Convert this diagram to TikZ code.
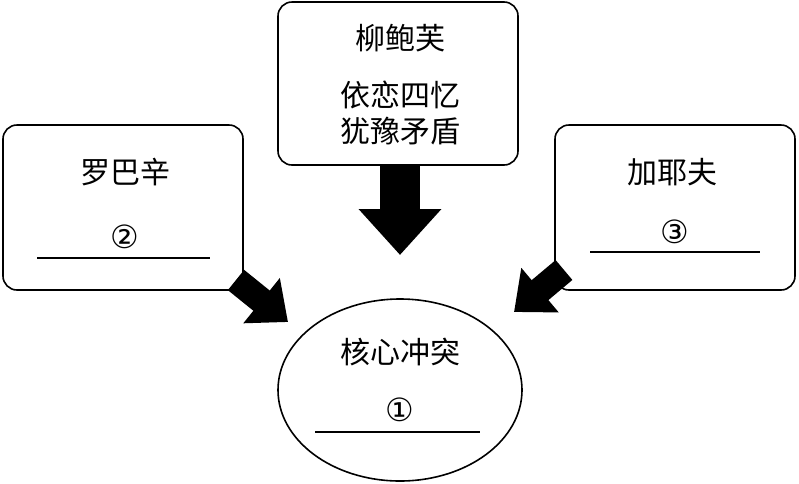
\documentclass[tikz,border=0pt]{standalone}
\usepackage{fontspec}
\newfontfamily\cjk{Noto Sans CJK SC}
\newfontfamily\djsym{DejaVu Sans}
\usetikzlibrary{arrows.meta}
\begin{document}
\begin{tikzpicture}[x=1pt,y=-1pt,
 box/.style={draw,line width=1.6pt,rounded corners=14pt},
 txt/.style={font=\cjk\fontsize{30}{34}\selectfont},
 num/.style={font=\djsym\fontsize{32}{34}\selectfont},
 blank/.style={line width=1.4pt},
 bigarrow/.style={line width=40pt,-{Triangle[width=80pt,length=46pt]}},
 smallarrow/.style={line width=26pt,-{Triangle[width=56pt,length=34pt]}}]
\useasboundingbox (0,0) rectangle (799,483);
\draw[box] (278,2) rectangle (518,165); \node (top) at (398,83) {};
\draw[box] (3,125) rectangle (243,290); \node (left) at (123,207) {};
\draw[box] (555,125) rectangle (795,290); \node (right) at (675,207) {};
\draw[line width=1.6pt] (400,390) ellipse [x radius=122, y radius=91];
\node (core) at (400,390) {};
\node[txt] (t1) at (400,38) {柳鲍芙};
\node[txt] (t2) at (400,95) {依恋四忆};
\node[txt] (t3) at (400,131) {犹豫矛盾};
\node[txt] (l1) at (125,172) {罗巴辛};
\node[num] (l2) at (125,237) {②};
\draw[blank] (37,258) -- (210,258);
\node[txt] (r1) at (672,172) {加耶夫};
\node[num] (r2) at (675,232) {③};
\draw[blank] (590,252) -- (760,252);
\node[txt] (c1) at (400,352) {核心冲突};
\node[num] (c2) at (400,410) {①};
\draw[blank] (315,432) -- (480,432);
\coordinate (ta) at (400,165); \coordinate (tb) at (400,255);
\coordinate (la) at (236,280); \coordinate (lb) at (288,322);
\coordinate (ra) at (564,270); \coordinate (rb) at (514,312);
\draw[bigarrow] (ta) -- (tb);
\draw[smallarrow] (la) -- (lb);
\draw[smallarrow] (ra) -- (rb);
\end{tikzpicture}
\end{document}
